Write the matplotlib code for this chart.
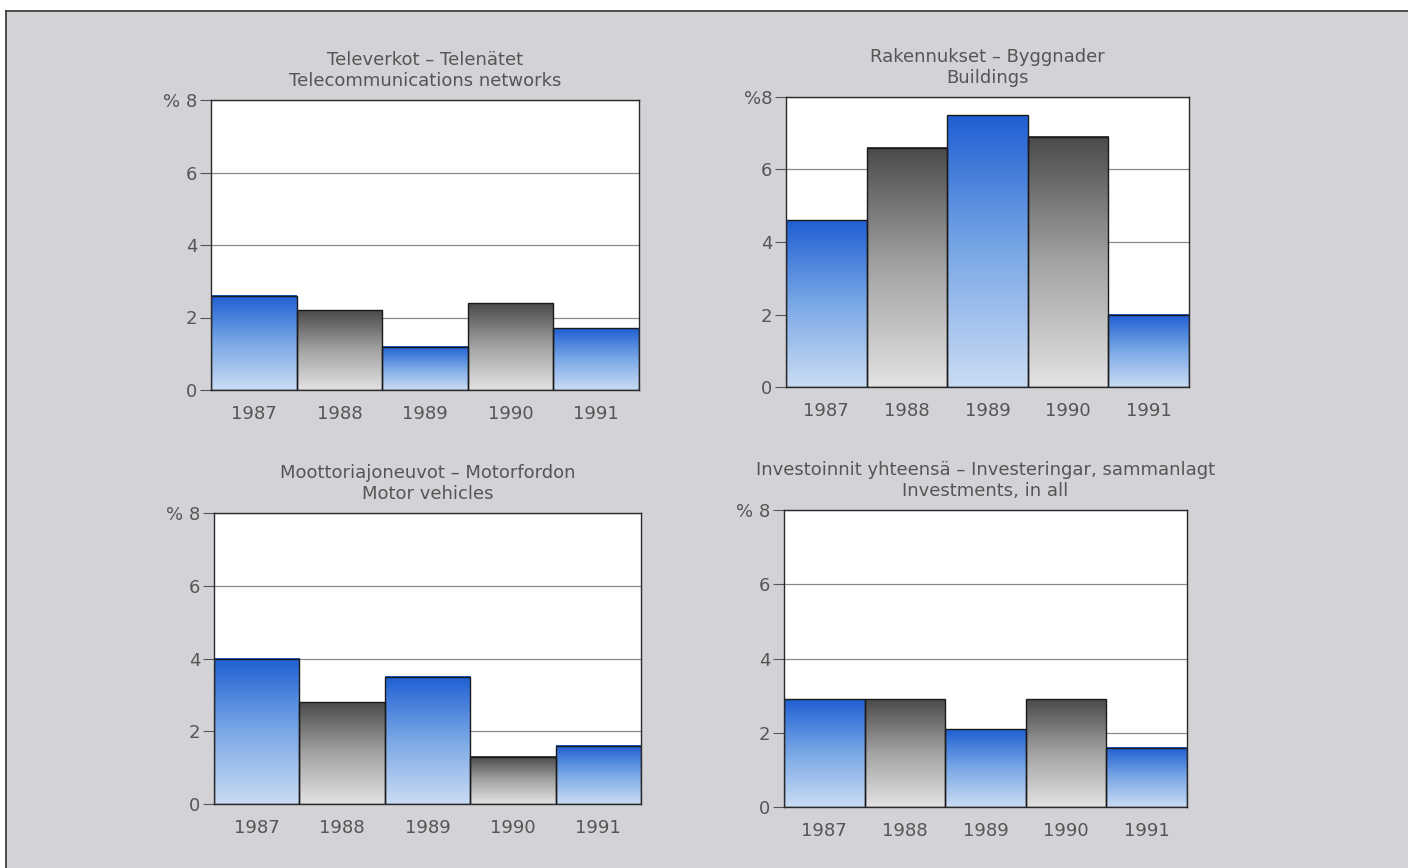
import matplotlib
matplotlib.use("Agg")
import matplotlib.pyplot as plt
import numpy as np
from matplotlib.colors import LinearSegmentedColormap
from matplotlib.patches import Rectangle
from matplotlib.lines import Line2D

# Data (annual change, %)
years = ["1987", "1988", "1989", "1990", "1991"]
telecom = [2.6, 2.2, 1.2, 2.4, 1.7]
buildings = [4.6, 6.6, 7.5, 6.9, 2.0]
vehicles = [4.0, 2.8, 3.5, 1.3, 1.6]
total = [2.9, 2.9, 2.1, 2.9, 1.6]

titles = [
    "Televerkot \u2013 Telenätet\nTelecommunications networks",
    "Rakennukset \u2013 Byggnader\nBuildings",
    "Moottoriajoneuvot \u2013 Motorfordon\nMotor vehicles",
    "Investoinnit yhteensä \u2013 Investeringar, sammanlagt\nInvestments, in all",
]
series = [telecom, buildings, vehicles, total]
top_labels = ["% 8", "%8", "% 8", "% 8"]
bar_kinds = ["blue", "grey", "blue", "grey", "blue"]
yticks = [0, 2, 4, 6, 8]

W, H = 1408, 868
# axes boxes in pixels: left, right, top, bottom
boxes = [
    (211, 639, 100, 390),
    (786, 1189, 97, 387),
    (214, 641, 513, 804),
    (784, 1187, 510, 807),
]

cmaps = {
    "blue": LinearSegmentedColormap.from_list("b", ["#cadcf4", "#7aa8e6", "#1f5fd3"]),
    "grey": LinearSegmentedColormap.from_list("g", ["#e4e2e2", "#a3a3a3", "#4a4a4a"]),
}
grad = np.linspace(0, 1, 256).reshape(-1, 1)

text_color = "#555555"
plt.rcParams.update({"font.family": "DejaVu Sans", "font.size": 13})

fig = plt.figure(figsize=(W / 100, H / 100), dpi=100)
fig.patch.set_facecolor("white")

# scanned page background with frame on top and left
fig.patches.append(Rectangle((6 / W, 0), 1 - 6 / W, 1 - 11 / H, transform=fig.transFigure,
                             facecolor="#d3d3d7", edgecolor="none", zorder=-10))
fig.lines.append(Line2D([6 / W, 1], [1 - 11 / H, 1 - 11 / H], transform=fig.transFigure,
                        color="#333333", lw=1.2))
fig.lines.append(Line2D([6 / W, 6 / W], [0, 1 - 11 / H], transform=fig.transFigure,
                        color="#333333", lw=1.2))

for (l, r, t, b), title, vals, top in zip(boxes, titles, series, top_labels):
    ax = fig.add_axes([l / W, 1 - b / H, (r - l) / W, (b - t) / H])
    ax.set_facecolor("white")
    x = np.arange(len(years))

    for i, (v, kind) in enumerate(zip(vals, bar_kinds)):
        ax.imshow(grad, cmap=cmaps[kind], origin="lower", aspect="auto",
                  extent=[i - 0.5, i + 0.5, 0, v], zorder=2)
    ax.bar(x, vals, width=1.0, fill=False, edgecolor="#1a1a1a", linewidth=1.0, zorder=3)

    ax.set_xlim(-0.5, len(years) - 0.5)
    ax.set_ylim(0, 8)
    ax.set_yticks(yticks)
    ax.set_yticklabels(["0", "2", "4", "6", top])
    ax.set_xticks(x)
    ax.set_xticklabels(years)
    ax.tick_params(axis="y", length=8, width=0.8, pad=2, colors="#555555", labelcolor=text_color)
    ax.tick_params(axis="x", length=0, pad=11, labelcolor=text_color)
    ax.grid(axis="y", color="#8a8a8a", linewidth=0.9, zorder=1)
    ax.set_axisbelow(True)
    for s in ax.spines.values():
        s.set_color("#2a2a2a")
        s.set_linewidth(1.0)
        s.set_zorder(4)

    ax.set_title(title, color=text_color, fontsize=13, pad=10, linespacing=1.25)

fig.savefig("out.png", dpi=100)
